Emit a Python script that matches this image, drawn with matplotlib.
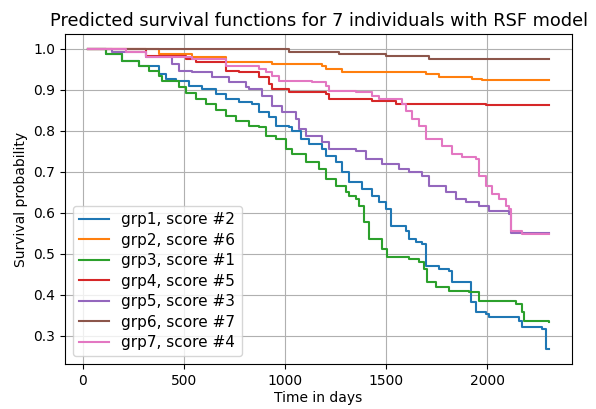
import matplotlib.pyplot as plt

# Step knots (time in days, survival probability)
t_end = 2307

grp1_t = [25, 112, 193, 277, 376, 409, 459, 525, 589, 657, 706, 772, 837, 871, 921, 955, 1020,
          1035, 1079, 1119, 1183, 1203, 1252, 1282, 1317, 1381, 1431, 1465, 1500, 1525, 1599,
          1614, 1648, 1678, 1698, 1762, 1812, 1827, 1921, 1946, 1995, 2010, 2158, 2173, 2272,
          2292, t_end]
grp1_s = [1.0, 0.988, 0.971, 0.959, 0.939, 0.927, 0.923, 0.910, 0.902, 0.890, 0.878, 0.871,
          0.866, 0.846, 0.834, 0.812, 0.810, 0.800, 0.780, 0.768, 0.756, 0.739, 0.724, 0.700,
          0.676, 0.659, 0.641, 0.627, 0.610, 0.568, 0.556, 0.537, 0.529, 0.524, 0.471, 0.463,
          0.459, 0.432, 0.383, 0.359, 0.354, 0.346, 0.337, 0.322, 0.317, 0.268, 0.268]

grp2_t = [25, 376, 540, 708, 936, 1183, 1203, 1282, 1698, 1762, 1926, 1975, t_end]
grp2_s = [1.0, 0.988, 0.980, 0.968, 0.963, 0.959, 0.951, 0.944, 0.939, 0.932, 0.927, 0.924, 0.924]

grp3_t = [25, 112, 193, 277, 327, 376, 391, 475, 508, 558, 607, 657, 706, 756, 822, 871, 906,
          955, 1005, 1035, 1104, 1168, 1203, 1252, 1302, 1317, 1351, 1366, 1391, 1416, 1480,
          1505, 1614, 1663, 1688, 1703, 1747, 1812, 1911, 1960, 2143, 2173, 2183, t_end]
grp3_s = [1.0, 0.988, 0.971, 0.959, 0.947, 0.935, 0.923, 0.907, 0.892, 0.878, 0.866, 0.850,
          0.837, 0.825, 0.813, 0.810, 0.788, 0.780, 0.756, 0.744, 0.724, 0.707, 0.683, 0.666,
          0.651, 0.641, 0.634, 0.617, 0.578, 0.537, 0.512, 0.493, 0.488, 0.480, 0.463, 0.432,
          0.420, 0.410, 0.407, 0.385, 0.378, 0.359, 0.337, 0.334]

grp4_t = [25, 312, 510, 559, 708, 772, 871, 921, 936, 1020, 1203, 1218, 1431, 1549, 1995, t_end]
grp4_s = [1.0, 0.983, 0.976, 0.968, 0.946, 0.944, 0.932, 0.915, 0.902, 0.895, 0.890, 0.878,
          0.873, 0.866, 0.863, 0.863]

grp5_t = [25, 144, 310, 441, 475, 540, 639, 723, 805, 822, 886, 936, 985, 1054, 1069, 1104,
          1183, 1218, 1351, 1401, 1480, 1564, 1614, 1678, 1713, 1797, 1847, 1896, 1960, 2010,
          2109, 2119, t_end]
grp5_s = [1.0, 0.993, 0.980, 0.963, 0.947, 0.944, 0.932, 0.920, 0.907, 0.902, 0.885, 0.861,
          0.846, 0.829, 0.805, 0.788, 0.773, 0.756, 0.751, 0.732, 0.720, 0.707, 0.700, 0.690,
          0.666, 0.651, 0.634, 0.627, 0.617, 0.605, 0.598, 0.552, 0.552]

grp6_t = [25, 1020, 1267, 1500, 1713, t_end]
grp6_s = [1.0, 0.993, 0.988, 0.983, 0.976, 0.976]

grp7_t = [25, 213, 312, 540, 708, 871, 906, 936, 970, 1134, 1203, 1218, 1351, 1431, 1465, 1579,
          1599, 1629, 1663, 1698, 1777, 1827, 1876, 1946, 1960, 1995, 2025, 2059, 2094, 2109,
          2119, 2173, t_end]
grp7_s = [1.0, 0.993, 0.980, 0.976, 0.959, 0.951, 0.944, 0.934, 0.922, 0.920, 0.910, 0.898,
          0.895, 0.885, 0.878, 0.866, 0.849, 0.829, 0.812, 0.780, 0.763, 0.744, 0.737, 0.732,
          0.690, 0.666, 0.646, 0.634, 0.617, 0.610, 0.556, 0.549, 0.549]

series = [
    ('grp1, score #2', grp1_t, grp1_s),
    ('grp2, score #6', grp2_t, grp2_s),
    ('grp3, score #1', grp3_t, grp3_s),
    ('grp4, score #5', grp4_t, grp4_s),
    ('grp5, score #3', grp5_t, grp5_s),
    ('grp6, score #7', grp6_t, grp6_s),
    ('grp7, score #4', grp7_t, grp7_s),
]

fig = plt.figure(figsize=(5.96, 4.09), dpi=100)
ax = fig.add_axes([0.109, 0.110, 0.851, 0.807])

for label, t, s in series:
    ax.step(t, s, where='post', label=label)

ax.set_title('Predicted survival functions for 7 individuals with RSF model', fontsize=12.8)
ax.set_xlabel('Time in days', fontsize=10, labelpad=2)
ax.set_ylabel('Survival probability', fontsize=10)
ax.tick_params(labelsize=10)
ax.grid(True)
ax.legend(loc='lower left', fontsize=11, labelspacing=0.36)

fig.savefig('out.png', dpi=100)
